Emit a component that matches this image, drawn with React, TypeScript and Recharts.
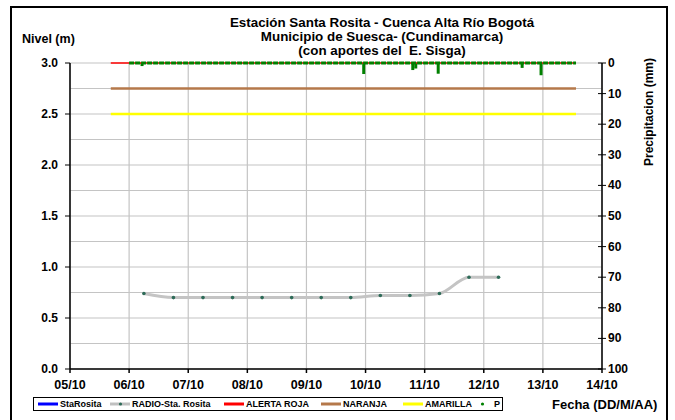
import React from 'react';
import { ComposedChart, Line, Bar, XAxis, YAxis, CartesianGrid } from 'recharts';

// x = days counted from 05/10
const fechaTicks = [0, 1, 2, 3, 4, 5, 6, 7, 8, 9];
const fechaLabels = ['05/10', '06/10', '07/10', '08/10', '09/10', '10/10', '11/10', '12/10', '13/10', '14/10'];

const nivelTicks = [0, 0.25, 0.5, 0.75, 1, 1.25, 1.5, 1.75, 2, 2.25, 2.5, 2.75, 3];
const precTicks = [0, 10, 20, 30, 40, 50, 60, 70, 80, 90, 100];

// RADIO-Sta. Rosita (m)
const radioT = [1.25, 1.75, 2.25, 2.75, 3.25, 3.75, 4.25, 4.75, 5.25, 5.75, 6.25, 6.75, 7.25];
const radioNivel = [0.74, 0.70, 0.70, 0.70, 0.70, 0.70, 0.70, 0.70, 0.72, 0.72, 0.74, 0.90, 0.90];

// alert thresholds (m)
const umbralT = [0.69, 8.56];
const alertaRoja = 3.0;
const naranja = 2.75;
const amarilla = 2.5;

// precipitation (mm)
const pBaseT = [1.0, 8.56];
const pT = [1.22, 4.97, 5.8, 5.85, 6.23, 7.65, 7.97];
const pMm = [1.0, 3.6, 2.3, 1.8, 3.5, 1.6, 4.0];

const font = "Arial, 'Liberation Sans', sans-serif";

type Row = { t: number; [k: string]: number | undefined };
const byT = new Map<number, Row>();
const row = (t: number) => {
    if (!byT.has(t)) byT.set(t, { t });
    return byT.get(t)!;
};
radioT.forEach((t, i) => { row(t).radio = radioNivel[i]; });
umbralT.forEach(t => {
    const r = row(t);
    r.roja = alertaRoja;
    r.naranja = naranja;
    r.amarilla = amarilla;
});
pBaseT.forEach(t => { row(t).pBase = 0; });
pT.forEach((t, i) => { row(t).p = pMm[i]; });
const data = Array.from(byT.values()).sort((a, b) => a.t - b.t);

const NivelTick = ({ x, y, payload }: any) => {
    const v = payload.value;
    if (Math.round(v * 100) % 50 !== 0) return null;
    return (
        <g>
            <line x1={x + 7} x2={x + 12} y1={y} y2={y} stroke="#000" />
            <text x={x} y={y} dy={4} textAnchor="end" fontSize={12} fontWeight="bold" fontFamily={font} fill="#000">
                {v.toFixed(1)}
            </text>
        </g>
    );
};

const PrecTick = ({ x, y, payload }: any) => (
    <g>
        <line x1={x - 10} x2={x - 2} y1={y} y2={y} stroke="#000" />
        <text x={x} y={y} dy={4} textAnchor="start" fontSize={12} fontWeight="bold" fontFamily={font} fill="#000">
            {payload.value}
        </text>
    </g>
);

// precipitation bars hang from the top, keep them 3px wide
const PBar = (props: any) => {
    const x = Number(props.x), y = Number(props.y);
    const w = Number(props.width) || 0, h = Number(props.height) || 0;
    if (!isFinite(x) || !isFinite(y) || h === 0) return null;
    const top = Math.min(y, y + h);
    return <rect x={x + w / 2 - 1.5} y={top} width={3} height={Math.abs(h)} fill="#008000" />;
};

const legendItems = [
    { name: 'StaRosita', color: '#0000ff', kind: 'line', left: 38 },
    { name: 'RADIO-Sta. Rosita', color: '#c0c0c0', kind: 'lineDot', left: 110 },
    { name: 'ALERTA ROJA', color: '#ff0000', kind: 'line', left: 224 },
    { name: 'NARANJA', color: '#b5784a', kind: 'line', left: 321 },
    { name: 'AMARILLA', color: '#ffff00', kind: 'line', left: 403 },
    { name: 'P', color: '#008000', kind: 'dot', left: 472 },
];

const Legenda = () => (
    <div style={{
        position: 'absolute', left: 33, top: 397, width: 470, height: 14, boxSizing: 'border-box',
        border: '1px solid #000', background: '#fff', fontFamily: font, fontSize: 9, fontWeight: 'bold',
    }}>
        {legendItems.map(it => (
            <div key={it.name} style={{
                position: 'absolute', left: it.left - 34, top: 0, display: 'flex', alignItems: 'center',
                gap: 2, whiteSpace: 'nowrap', lineHeight: '12px',
            }}>
                <svg width={20} height={8}>
                    {it.kind !== 'dot' && <line x1={0} x2={20} y1={4} y2={4} stroke={it.color} strokeWidth={3} />}
                    {it.kind !== 'line' && <circle cx={10.5} cy={4} r={1.6} fill={it.kind === 'dot' ? it.color : '#2e6b58'} />}
                </svg>
                <span>{it.name}</span>
            </div>
        ))}
    </div>
);

export default function App() {
    return (
        <div style={{ position: 'fixed', left: 0, top: 0, width: 675, height: 420, background: '#fff', overflow: 'hidden' }}>
            <div style={{
                position: 'absolute', left: 10, top: 6, width: 658, height: 440,
                border: '2px solid #000', boxSizing: 'border-box',
            }} />
            <div style={{
                position: 'absolute', left: 182, top: 16, width: 400, textAlign: 'center',
                fontFamily: font, fontSize: 12.5, fontWeight: 'bold', lineHeight: '14px',
                transform: 'scaleX(1.07)',
            }}>
                <div>Estación Santa Rosita - Cuenca Alta Río Bogotá</div>
                <div>Municipio de Suesca- (Cundinamarca)</div>
                <div>(con aportes del&nbsp; E. Sisga)</div>
            </div>
            <div style={{ position: 'absolute', left: 22, top: 32, fontFamily: font, fontSize: 12.5, fontWeight: 'bold' }}>
                Nivel (m)
            </div>
            <div style={{
                position: 'absolute', left: 649, top: 112, transform: 'translate(-50%, -50%) rotate(-90deg)',
                whiteSpace: 'nowrap', fontFamily: font, fontSize: 12, fontWeight: 'bold',
            }}>
                Precipitacion (mm)
            </div>
            <div style={{ position: 'absolute', left: 552, top: 397, fontFamily: font, fontSize: 13, fontWeight: 'bold' }}>
                Fecha (DD/M/AA)
            </div>
            <div style={{ position: 'absolute', left: 0, top: 0 }}>
                <ComposedChart width={675} height={420} data={data} margin={{ top: 63, right: 28, bottom: 21, left: 0 }}>
                    <CartesianGrid yAxisId="nivel" stroke="#c4c4c4" strokeWidth={1.2} />
                    <XAxis
                        dataKey="t"
                        type="number"
                        domain={[0, 9]}
                        ticks={fechaTicks}
                        tickFormatter={(v: number) => fechaLabels[v]}
                        height={30}
                        tickSize={4}
                        tickMargin={7}
                        stroke="#000"
                        strokeWidth={1.5}
                        tick={{ fontSize: 12.5, fontWeight: 'bold', fontFamily: font, fill: '#000' }}
                    />
                    <YAxis
                        yAxisId="nivel"
                        domain={[0, 3]}
                        ticks={nivelTicks}
                        width={70}
                        tickSize={5}
                        tickMargin={7}
                        tickLine={false}
                        stroke="#000"
                        strokeWidth={1.5}
                        tick={<NivelTick />}
                    />
                    <YAxis
                        yAxisId="p"
                        orientation="right"
                        reversed
                        domain={[0, 100]}
                        ticks={precTicks}
                        width={45}
                        tickSize={4}
                        tickMargin={2}
                        tickLine={false}
                        stroke="#000"
                        strokeWidth={1.5}
                        tick={<PrecTick />}
                    />
                    <Line yAxisId="nivel" dataKey="naranja" stroke="#b5784a" strokeWidth={2.5} dot={false} connectNulls isAnimationActive={false} />
                    <Line yAxisId="nivel" dataKey="amarilla" stroke="#ffff00" strokeWidth={2.5} dot={false} connectNulls isAnimationActive={false} />
                    <Line yAxisId="nivel" dataKey="roja" stroke="#ff0000" strokeWidth={1.5} dot={false} connectNulls isAnimationActive={false} />
                    <Line
                        yAxisId="nivel"
                        type="monotone"
                        dataKey="radio"
                        stroke="#c4c4c4"
                        strokeWidth={3}
                        dot={{ r: 1.8, fill: '#2e6b58', stroke: 'none' }}
                        connectNulls
                        isAnimationActive={false}
                    />
                    <Line yAxisId="p" dataKey="pBase" stroke="#008000" strokeWidth={3} strokeDasharray="5 1" dot={false} connectNulls isAnimationActive={false} />
                    <Bar yAxisId="p" dataKey="p" fill="#008000" barSize={3} shape={PBar} isAnimationActive={false} />
                </ComposedChart>
            </div>
            <Legenda />
        </div>
    );
}
